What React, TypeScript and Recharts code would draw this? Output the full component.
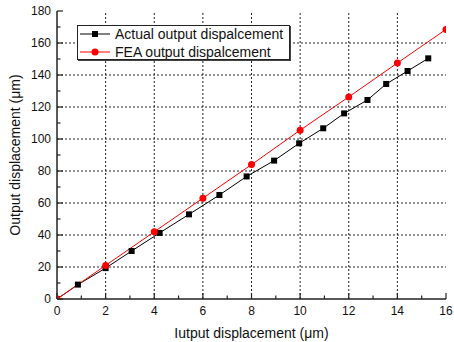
import { LineChart, Line, XAxis, YAxis, ReferenceLine, Legend } from 'recharts';

// measured input displacement (um) and actual output (um)
const actualX = [0, 0.86, 2, 3.07, 4.22, 5.43, 6.68, 7.8, 8.93, 9.96, 10.95, 11.81, 12.77, 13.54, 14.42, 15.27];
const actualY = [0, 9, 19.3, 30, 41.3, 52.9, 65, 76.6, 86.5, 97.3, 106.7, 116, 124.4, 134.4, 142.5, 150.4];

// FEA prediction
const feaX = [0, 2, 4, 6, 8, 10, 12, 14, 16];
const feaY = [0, 21, 42, 63, 84, 105.5, 126.3, 147.5, 168.5];

const xTicks = [0, 1, 2, 3, 4, 5, 6, 7, 8, 9, 10, 11, 12, 13, 14, 15, 16];
const yTicks = [0, 10, 20, 30, 40, 50, 60, 70, 80, 90, 100, 110, 120, 130, 140, 150, 160, 170, 180];
const xGrid = [2, 4, 6, 8, 10, 12, 14];
const yGrid = [20, 40, 60, 80, 100, 120, 140, 160];

const actualData = actualX.map((x, i) => ({ x, y: actualY[i] }));
const feaData = feaX.map((x, i) => ({ x, y: feaY[i] }));

const FONT = '"Liberation Sans", Arial, sans-serif';
const AXIS = '#222';

const BottomTick = ({ x, y, payload }: any) => {
  const major = payload.value % 2 === 0;
  return (
    <g>
      <line x1={x} x2={x} y1={y} y2={y - (major ? 6 : 3.5)} stroke={AXIS} strokeWidth={1.2} />
      {major && (
        <text x={x} y={y + 16} textAnchor="middle" fontSize={12} fontFamily={FONT} fill="#111">
          {payload.value}
        </text>
      )}
    </g>
  );
};

const TopTick = ({ x, y, payload }: any) => {
  const major = payload.value % 2 === 0;
  return <line x1={x} x2={x} y1={y} y2={y + (major ? 6 : 3.5)} stroke={AXIS} strokeWidth={1.2} />;
};

const LeftTick = ({ x, y, payload }: any) => {
  const major = payload.value % 20 === 0;
  return (
    <g>
      <line x1={x} x2={x + (major ? 6 : 3.5)} y1={y} y2={y} stroke={AXIS} strokeWidth={1.2} />
      {major && (
        <text x={x - 6} y={y + 4} textAnchor="end" fontSize={12} fontFamily={FONT} fill="#111">
          {payload.value}
        </text>
      )}
    </g>
  );
};

const RightTick = ({ x, y, payload }: any) => {
  const major = payload.value % 20 === 0;
  return <line x1={x} x2={x - (major ? 6 : 3.5)} y1={y} y2={y} stroke={AXIS} strokeWidth={1.2} />;
};

const XLabel = ({ viewBox }: any) => (
  <text x={viewBox.x + viewBox.width / 2} y={viewBox.y + 39} textAnchor="middle" fontSize={14} fontFamily={FONT} fill="#111">
    Iutput displacement (μm)
  </text>
);

const YLabel = ({ viewBox }: any) => {
  const cy = viewBox.y + viewBox.height / 2;
  return (
    <text x={15} y={cy} transform={`rotate(-90, 15, ${cy})`} textAnchor="middle" dominantBaseline="central" fontSize={14} fontFamily={FONT} fill="#111">
      Output displacement (μm)
    </text>
  );
};

const Square = ({ cx, cy }: any) => <rect x={cx - 3} y={cy - 3} width={6} height={6} fill="#000" />;

const LegendBox = () => (
  <div style={{ border: '1px solid #222', boxShadow: '1px 1px 0 #444', background: '#fff', width: 211, height: 33, fontFamily: FONT }}>
    <svg width={211} height={33}>
      <line x1={2} x2={32} y1={8} y2={8} stroke="#000" />
      <rect x={14} y={5} width={6} height={6} fill="#000" />
      <text x={37} y={13} fontSize={14} fill="#111">Actual output dispalcement</text>
      <line x1={2} x2={32} y1={26} y2={26} stroke="#ff0000" />
      <circle cx={17} cy={26} r={3.5} fill="#ff0000" />
      <text x={37} y={31} fontSize={14} fill="#111">FEA output dispalcement</text>
    </svg>
  </div>
);

export default function App() {
  return (
    <div style={{ position: 'absolute', left: 0, top: 0, width: 454, height: 342, background: '#fff' }}>
      <LineChart width={454} height={342} margin={{ top: 11, right: 8, left: 0, bottom: 0 }}>
        <XAxis
          dataKey="x"
          type="number"
          domain={[0, 16]}
          ticks={xTicks}
          interval={0}
          height={43}
          tickSize={0}
          tickMargin={0}
          tick={<BottomTick />}
          axisLine={{ stroke: AXIS, strokeWidth: 1.5 }}
          label={<XLabel />}
          allowDataOverflow
        />
        <XAxis
          xAxisId="top"
          orientation="top"
          dataKey="x"
          type="number"
          domain={[0, 16]}
          ticks={xTicks}
          interval={0}
          height={0}
          tickSize={0}
          tickMargin={0}
          tick={<TopTick />}
          axisLine={{ stroke: AXIS, strokeWidth: 1.5 }}
        />
        <YAxis
          dataKey="y"
          type="number"
          domain={[0, 180]}
          ticks={yTicks}
          interval={0}
          width={57}
          tickSize={0}
          tickMargin={0}
          tick={<LeftTick />}
          axisLine={{ stroke: AXIS, strokeWidth: 1.5 }}
          label={<YLabel />}
          allowDataOverflow
        />
        <YAxis
          yAxisId="right"
          orientation="right"
          dataKey="y"
          type="number"
          domain={[0, 180]}
          ticks={yTicks}
          interval={0}
          width={0}
          tickSize={0}
          tickMargin={0}
          tick={<RightTick />}
          axisLine={{ stroke: AXIS, strokeWidth: 1.5 }}
        />
        {xGrid.map((v) => (
          <ReferenceLine key={`gx${v}`} x={v} stroke="#222" strokeDasharray="2 2" />
        ))}
        {yGrid.map((v) => (
          <ReferenceLine key={`gy${v}`} y={v} stroke="#222" strokeDasharray="2 2" />
        ))}
        <Legend
          layout="horizontal"
          verticalAlign="middle"
          align="center"
          content={<LegendBox />}
          wrapperStyle={{ left: 77, top: 25, width: 213, height: 35 }}
        />
        <Line
          data={actualData}
          dataKey="y"
          name="Actual output dispalcement"
          stroke="#000"
          strokeWidth={1}
          dot={<Square />}
          activeDot={false}
          isAnimationActive={false}
        />
        <Line
          data={feaData}
          dataKey="y"
          name="FEA output dispalcement"
          stroke="#ff0000"
          strokeWidth={1}
          dot={{ r: 3.5, fill: '#ff0000', stroke: '#ff0000', strokeWidth: 0 }}
          activeDot={false}
          isAnimationActive={false}
        />
      </LineChart>
    </div>
  );
}
